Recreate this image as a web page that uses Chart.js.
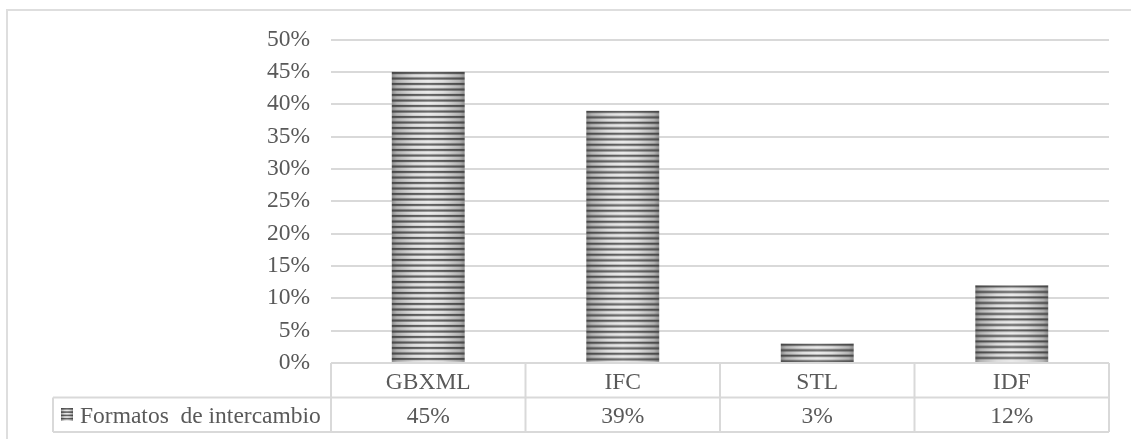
<!DOCTYPE html>
<html>
<head>
<meta charset="utf-8">
<script src="https://cdn.jsdelivr.net/npm/chart.js@4/dist/chart.umd.min.js"></script>
<style>
  html, body { margin: 0; padding: 0; background: #ffffff; overflow: hidden; }
  #wrap { position: relative; width: 1131px; height: 439px; }
  #frame { position: absolute; left: 6px; top: 9px; width: 1300px; height: 600px;
           border: 2px solid #dedede; box-sizing: border-box; }
  #chart { position: absolute; left: 0; top: 0; }
</style>
</head>
<body>
<div id="wrap">
  <div id="frame"></div>
  <canvas id="chart" width="1131" height="439"></canvas>
</div>
<script>
// Categories and series values (percent)
const categories = ['GBXML', 'IFC', 'STL', 'IDF'];
const seriesName = 'Formatos  de intercambio';
const values = [45, 39, 3, 12];
const yMax = 50;
const yStep = 5;

const FONT = '"Liberation Serif", "Times New Roman", serif';
const FONT_SIZE = 23.5;
const TEXT_COLOR = '#595959';
const LINE_COLOR = '#d9d9d9';
const CAT_PCT = 0.375;

// Horizontal-striped fill with a cylindrical shading across its width
function makeStripeCanvas(w, h, period, darkH) {
  const c = document.createElement('canvas');
  c.width = Math.max(1, Math.ceil(w));
  c.height = h;
  const g = c.getContext('2d');
  const light = g.createLinearGradient(0, 0, w, 0);
  light.addColorStop(0, '#8e8e8e');
  light.addColorStop(0.07, '#b4b4b4');
  light.addColorStop(0.3, '#dfdfdf');
  light.addColorStop(0.5, '#ebebeb');
  light.addColorStop(0.7, '#dfdfdf');
  light.addColorStop(0.93, '#b4b4b4');
  light.addColorStop(1, '#8e8e8e');
  g.fillStyle = light;
  g.fillRect(0, 0, w, h);
  const dark = g.createLinearGradient(0, 0, w, 0);
  dark.addColorStop(0, '#474747');
  dark.addColorStop(0.5, '#666666');
  dark.addColorStop(1, '#474747');
  g.fillStyle = dark;
  for (let y = 0; y < h; y += period) {
    g.fillRect(0, y, w, darkH);
  }
  return c;
}

const patternCache = {};
function barFill(context) {
  const chart = context.chart;
  const xs = chart.scales.x, ys = chart.scales.y;
  if (!xs || !ys || !chart.chartArea) return '#777777';
  const i = context.dataIndex;
  const w = (xs.width / categories.length) * CAT_PCT;
  const left = xs.getPixelForValue(i) - w / 2;
  const top = ys.getPixelForValue(values[i]);
  const key = Math.round(w * 10);
  if (!patternCache[key]) patternCache[key] = makeStripeCanvas(w, 11, 5.5, 2.2);
  const pat = chart.ctx.createPattern(patternCache[key], 'repeat');
  pat.setTransform(new DOMMatrix([1, 0, 0, 1, left, top]));
  return pat;
}

// Data table beneath the plot: category row, value row and legend key
const dataTable = {
  id: 'dataTable',
  afterDraw(chart) {
    const ctx = chart.ctx;
    const xs = chart.scales.x;
    const area = chart.chartArea;
    const rowH = 34.5;
    const r0 = area.bottom, r1 = r0 + rowH, r2 = r1 + rowH;
    const legendLeft = 53;
    const catW = xs.width / categories.length;

    ctx.save();
    ctx.strokeStyle = LINE_COLOR;
    ctx.lineWidth = 2;
    ctx.beginPath();
    // horizontal rules
    ctx.moveTo(area.left, r0); ctx.lineTo(area.right, r0);
    ctx.moveTo(legendLeft, r1); ctx.lineTo(area.right, r1);
    ctx.moveTo(legendLeft, r2); ctx.lineTo(area.right, r2);
    // vertical rules
    ctx.moveTo(legendLeft, r1); ctx.lineTo(legendLeft, r2);
    for (let k = 0; k <= categories.length; k++) {
      const x = area.left + k * catW;
      ctx.moveTo(x, r0); ctx.lineTo(x, r2);
    }
    ctx.stroke();

    ctx.fillStyle = TEXT_COLOR;
    ctx.font = FONT_SIZE + 'px ' + FONT;
    ctx.textAlign = 'center';
    ctx.textBaseline = 'alphabetic';
    categories.forEach((c, i) => {
      const cx = xs.getPixelForValue(i);
      ctx.fillText(c, cx, r0 + 25.5);
      ctx.fillText(Math.round(values[i]) + '%', cx, r1 + 25.5);
    });

    // legend key
    const key = makeStripeCanvas(12, 13, 3.3, 1.6);
    ctx.drawImage(key, legendLeft + 8, r1 + 10.5);
    ctx.textAlign = 'left';
    ctx.fillText(seriesName, legendLeft + 27, r1 + 25.5);
    ctx.restore();
  }
};

new Chart(document.getElementById('chart'), {
  type: 'bar',
  data: {
    labels: categories,
    datasets: [{
      label: seriesName,
      data: values,
      backgroundColor: barFill,
      borderWidth: 0,
      barPercentage: 1,
      categoryPercentage: CAT_PCT
    }]
  },
  options: {
    responsive: false,
    animation: false,
    events: [],
    layout: { padding: { left: 0, top: 39.5, right: 22, bottom: 0 } },
    plugins: { legend: { display: false }, tooltip: { enabled: false } },
    scales: {
      x: {
        grid: { display: false },
        border: { display: false },
        ticks: { display: false },
        afterFit(scale) { scale.height = 76; }
      },
      y: {
        min: 0,
        max: yMax,
        border: { display: false },
        grid: { color: LINE_COLOR, lineWidth: 2, drawTicks: false },
        ticks: {
          stepSize: yStep,
          padding: 21,
          color: TEXT_COLOR,
          font: { family: FONT, size: FONT_SIZE },
          callback: (v) => v + '%'
        },
        afterFit(scale) { scale.width = 331; }
      }
    }
  },
  plugins: [dataTable]
});
</script>
</body>
</html>
